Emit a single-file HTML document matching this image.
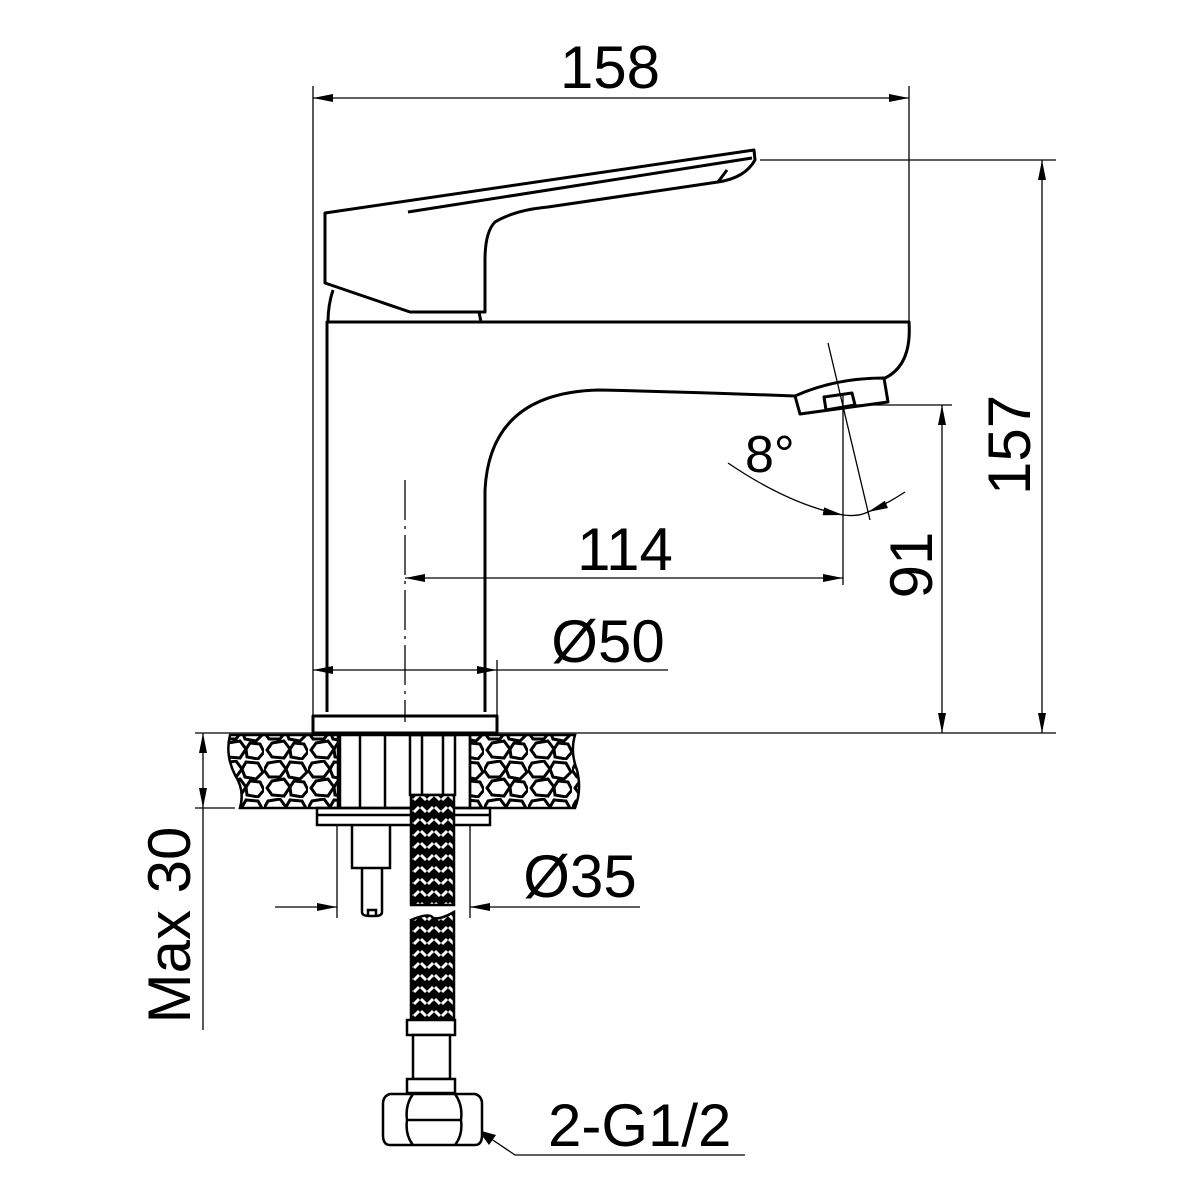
<!DOCTYPE html>
<html><head><meta charset="utf-8"><style>html,body{margin:0;padding:0;background:#fff}svg{display:block}</style></head><body>
<svg width="1200" height="1200" viewBox="0 0 1200 1200" xmlns="http://www.w3.org/2000/svg">
<defs>
<marker id="a" viewBox="0 0 20 8" refX="20" refY="4" markerWidth="20" markerHeight="8" markerUnits="userSpaceOnUse" orient="auto-start-reverse"><path d="M0,0L20,4L0,8z" fill="#000"/></marker>
<pattern id="stone" width="44" height="38" patternUnits="userSpaceOnUse">
<rect width="44" height="38" fill="#fff"/>
<g fill="none" stroke="#000" stroke-width="3">
<path d="M4,3 L16,1 L22,9 L16,17 L5,17 L0,10Z"/>
<path d="M26,2 L38,3 L43,12 L36,19 L25,17 L22,9Z"/>
<path d="M8,21 L20,19 L26,27 L20,36 L8,35 L3,28Z"/>
<path d="M30,21 L40,22 L44,30 L38,37 L27,35 L26,27Z"/>
</g>
</pattern>
<pattern id="braid" width="14" height="12" patternUnits="userSpaceOnUse">
<rect width="14" height="12" fill="#000"/>
<path d="M1,3L6,8M8,8L13,3" stroke="#fff" stroke-width="3"/>
</pattern>
</defs>
<g fill="none" stroke="#000" stroke-width="1.3">
<line x1="313" y1="86" x2="313" y2="716"/>
<line x1="909" y1="86" x2="909" y2="322"/>
<line x1="760" y1="160" x2="1056" y2="160"/>
<line x1="195" y1="733" x2="1056" y2="733"/>
<line x1="850" y1="405" x2="952" y2="405"/>
<line x1="195" y1="808" x2="235" y2="808"/>
<line x1="497" y1="660" x2="497" y2="716"/>
<line x1="337" y1="825" x2="337" y2="918"/>
<line x1="470" y1="825" x2="470" y2="918"/>
<line x1="843" y1="395" x2="843" y2="585"/>
<line x1="828" y1="343" x2="870" y2="520"/>
<line x1="405" y1="480" x2="405" y2="722" stroke-dasharray="40,6,3,6"/>
<line x1="313" y1="98" x2="909" y2="98" marker-start="url(#a)" marker-end="url(#a)"/>
<line x1="1042" y1="160" x2="1042" y2="733" marker-start="url(#a)" marker-end="url(#a)"/>
<line x1="942" y1="405" x2="942" y2="733" marker-start="url(#a)" marker-end="url(#a)"/>
<line x1="405" y1="578" x2="843" y2="578" marker-start="url(#a)" marker-end="url(#a)"/>
<line x1="313" y1="670" x2="497" y2="670" marker-start="url(#a)" marker-end="url(#a)"/>
<line x1="497" y1="670" x2="668" y2="670"/>
<line x1="275" y1="907" x2="337" y2="907" marker-end="url(#a)"/>
<line x1="640" y1="907" x2="470" y2="907" marker-end="url(#a)"/>
<line x1="203" y1="770" x2="203" y2="733" marker-end="url(#a)"/>
<line x1="203" y1="770" x2="203" y2="808" marker-end="url(#a)"/>
<line x1="203" y1="808" x2="203" y2="1030"/>
<path d="M728,463 Q790,505 843,515" marker-end="url(#a)"/>
<path d="M843,515 Q858,517 868,512"/>
<path d="M905,492 Q885,505 868,512" marker-end="url(#a)"/>
<polyline points="478,1130 515,1155 745,1155"/>
</g>
<path d="M478,1130 L496,1135 L489,1145z" fill="#000"/>
<g fill="none" stroke="#000" stroke-width="3" stroke-linejoin="round">
<path d="M325,213 L754,150 L755,160 Q745,178 718,182 L548,207 Q515,210 495,222 Q485,232 485,260 L485,312 L410,312 L325,283 Z"/>
<path d="M408,212 L752,158"/>
<path d="M718,182 L727,170"/>
<path d="M333,290 Q328,305 328,322"/>
<path d="M479,312 L481,322"/>
<path d="M327,712 L327,322 L909,322 Q912,365 885,378"/>
<path d="M795,396 Q690,392 600,390 Q490,392 485,490 L485,712"/>
<path d="M795,396 L800,414 L888,402 L884,378 Q835,378 795,396Z"/>
<path d="M824,397 L826,410 L855,405 L852,393 Z"/>
<rect x="313" y="716" width="184" height="17"/>
</g>
<path d="M230,735 L338,735 L338,808 L240,808 Q245,790 235,775 Q225,755 230,735Z" fill="url(#stone)" stroke="#000" stroke-width="2.5"/>
<path d="M470,735 L575,735 Q570,752 577,770 Q582,790 575,808 L470,808Z" fill="url(#stone)" stroke="#000" stroke-width="2.5"/>
<g fill="none" stroke="#000" stroke-width="2.5">
<rect x="340" y="735" width="130" height="73"/>
<line x1="360" y1="735" x2="360" y2="808"/><line x1="385" y1="735" x2="385" y2="808"/>
<rect x="410" y="735" width="45" height="60"/>
<line x1="422" y1="735" x2="422" y2="795"/><line x1="443" y1="735" x2="443" y2="795"/>
<rect x="317" y="808" width="173" height="17"/>
<line x1="318" y1="815" x2="489" y2="815"/>
<path d="M352,825 L352,868 L390,868 L390,825"/>
<path d="M362,868 L362,912 Q362,916 370,916 L375,916 Q382,916 382,912 L382,868"/>
<path d="M368,916 L368,910 L376,910 L376,916"/>
</g>
<rect x="411" y="795" width="43" height="110" fill="url(#braid)" stroke="#000" stroke-width="2.5"/>
<path d="M411,920 Q430,912 433,918 Q440,920 454,912 L454,1020 L411,1020Z" fill="url(#braid)" stroke="#000" stroke-width="2.5"/>
<g fill="#fff" stroke="#000" stroke-width="2.5">
<rect x="407" y="1020" width="48" height="15"/>
<rect x="413" y="1035" width="37" height="44"/>
<rect x="407" y="1079" width="48" height="14"/>
<path d="M390,1094 L475,1094 Q482,1096 482,1104 L482,1135 Q482,1145 475,1145 L390,1145 Q383,1145 383,1135 L383,1104 Q383,1096 390,1094Z"/>
</g>
<path d="M413,1094 Q405,1105 407,1120 Q405,1135 413,1145 M455,1094 Q463,1105 461,1120 Q463,1135 455,1145 M407,1120 L461,1120" fill="none" stroke="#000" stroke-width="2.5"/>
<g font-family="'Liberation Sans', sans-serif" font-size="60" fill="#000">
<text x="610" y="88" text-anchor="middle">158</text>
<text x="625" y="570" text-anchor="middle">114</text>
<text x="608" y="662" text-anchor="middle">Ø50</text>
<text x="580" y="897" text-anchor="middle">Ø35</text>
<text x="548" y="1146">2-G1/2</text>
<text x="745" y="472" font-size="52">8°</text>
<text transform="translate(1030,445) rotate(-90)" text-anchor="middle">157</text>
<text transform="translate(932,565) rotate(-90)" text-anchor="middle">91</text>
<text transform="translate(190,925) rotate(-90)" text-anchor="middle">Max 30</text>
</g>
</svg>
</body></html>
